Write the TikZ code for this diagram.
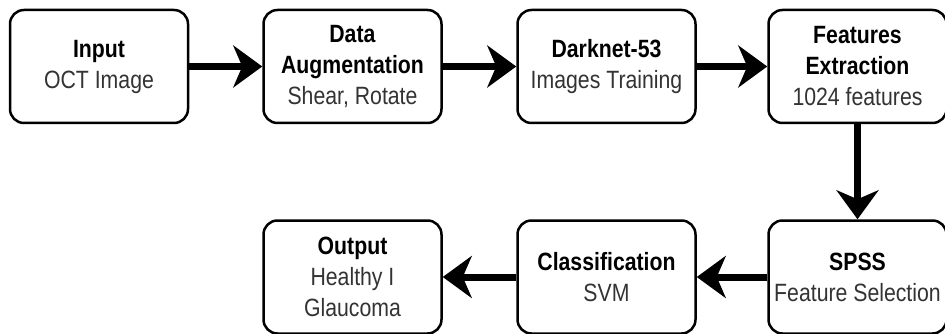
\documentclass[tikz,border=0pt]{standalone}
\usepackage{fontspec}
\setmainfont{Liberation Sans}[FakeStretch=0.85]
\usetikzlibrary{arrows.meta}
\definecolor{subtext}{HTML}{333333}
\tikzset{
  stage/.style={draw=black, line width=2.5pt, rounded corners=14pt, fill=white,
    minimum width=178pt, minimum height=113pt, inner sep=0pt, align=center,
    font=\fontsize{25}{31}\selectfont},
  flow/.style={line width=7pt, -{Stealth[length=29pt, width=42pt, inset=9pt]}}
}
\newcommand{\stagetext}[2]{\textbf{#1}\\{\color{subtext}#2}}
\begin{document}
\begin{tikzpicture}[x=1pt, y=-1pt]
  \useasboundingbox (0,0) rectangle (945,334);
  % top row
  \node[stage] (input)   at (99,66.5)    {\stagetext{Input}{OCT Image}};
  \node[stage] (augment) at (352.5,66.5) {\textbf{Data}\\\textbf{Augmentation}\\{\color{subtext}Shear, Rotate}};
  \node[stage] (darknet) at (606.5,66.5) {\stagetext{Darknet-53}{Images Training}};
  \node[stage] (extract) at (857.5,66.5) {\textbf{Features}\\\textbf{Extraction}\\{\color{subtext}1024 features}};
  % bottom row
  \node[stage] (output)  at (352.5,277)  {\textbf{Output}\\{\color{subtext}Healthy I}\\{\color{subtext}Glaucoma}};
  \node[stage] (classify) at (606.5,277) {\stagetext{Classification}{SVM}};
  \node[stage] (spss)    at (857.5,277)  {\stagetext{SPSS}{Feature Selection}};
  % connectors
  \draw[flow] (input.east) -- (augment.west);
  \draw[flow] (augment.east) -- (darknet.west);
  \draw[flow] (darknet.east) -- (extract.west);
  \draw[flow] (extract.south) -- (spss.north);
  \draw[flow] (spss.west) -- (classify.east);
  \draw[flow] (classify.west) -- (output.east);
\end{tikzpicture}
\end{document}
